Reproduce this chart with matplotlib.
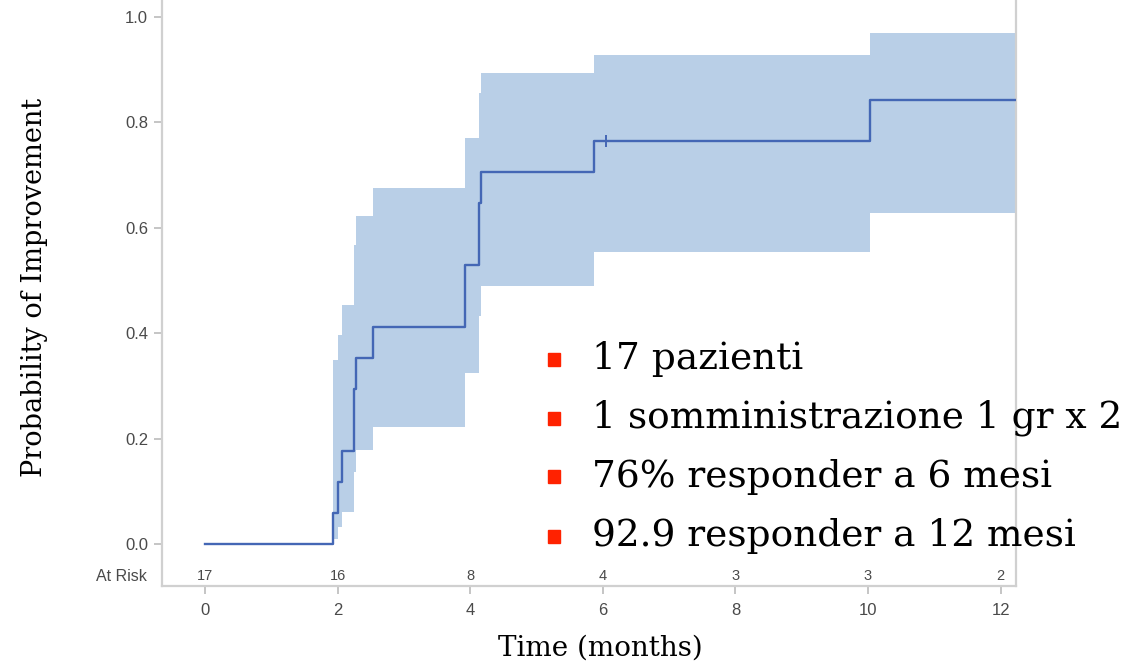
import numpy as np
import matplotlib; matplotlib.use("Agg"); import matplotlib.pyplot as plt

# Kaplan-Meier style curve
event_t = [1.93, 2.01, 2.06, 2.24, 2.28, 2.54, 3.92, 4.13, 4.16, 5.87, 10.03]
prob    = [0.059, 0.118, 0.176, 0.294, 0.353, 0.412, 0.529, 0.647, 0.706, 0.765, 0.843]
ci_low  = [0.010, 0.032, 0.061, 0.136, 0.178, 0.222, 0.325, 0.432, 0.489, 0.554, 0.629]
ci_high = [0.350, 0.396, 0.453, 0.568, 0.623, 0.676, 0.771, 0.856, 0.894, 0.928, 0.970]
censor_t, censor_p = [6.05], [0.765]
t_end = 12.232

risk_t = [0, 2, 4, 6, 8, 10, 12]
at_risk = [17, 16, 8, 4, 3, 3, 2]

bullets = ["17 pazienti", "1 somministrazione 1 gr x 2",
           "76% responder a 6 mesi", "92.9 responder a 12 mesi"]

fig = plt.figure(figsize=(11.37, 6.61), dpi=100)
ax = fig.add_axes([0.14248, 0.1135, 0.7511, 0.9007])
ax.set_xlim(-0.6486, t_end); ax.set_ylim(-0.0795, 1.05)

bt = np.array(event_t + [t_end])
ax.fill_between(bt, ci_low + ci_low[-1:], ci_high + ci_high[-1:], step="post",
                color="#b9cfe7", lw=0, zorder=1)
lt = np.array([0] + event_t + [t_end]); lp = np.array([0] + prob + prob[-1:])
ax.step(lt, lp, where="post", color="#4467b5", lw=1.7, zorder=3)
ax.plot(censor_t, censor_p, ls="none", marker="|", ms=9, mew=1.4, color="#4467b5", zorder=4)

# at-risk row inside the axes
for x, n in zip(risk_t, at_risk):
    ax.text(x, -0.061, str(n), ha="center", va="center", fontsize=10.5,
            family="Liberation Sans", color="#4a4a4a")
ax.text(-0.875, -0.061, "At Risk", ha="right", va="center", fontsize=11.5,
        family="Liberation Sans", color="#4a4a4a", clip_on=False)

ax.set_xticks(risk_t); ax.set_yticks([0, 0.2, 0.4, 0.6, 0.8, 1.0])
ax.set_yticklabels(["0.0", "0.2", "0.4", "0.6", "0.8", "1.0"])
ax.tick_params(colors="#c0c0c0", labelcolor="#4a4a4a", labelsize=12, length=6, width=1.3)
ax.tick_params(axis="x", pad=6)
ax.tick_params(axis="y", pad=4)
for s in ("left", "right", "bottom"):
    ax.spines[s].set_color("#d0d0d0"); ax.spines[s].set_linewidth(1.6)
ax.spines["top"].set_visible(False)
for lab in ax.get_xticklabels() + ax.get_yticklabels():
    lab.set_fontfamily("Liberation Sans")

fig.text(600 / 1137, 1 - 648 / 661, "Time (months)", ha="center", va="center",
         family="DejaVu Serif", fontsize=20)
fig.text(35 / 1137, 1 - 287 / 661, "Probability of Improvement", ha="center", va="center",
         rotation=90, family="DejaVu Serif", fontsize=19.5)

for i, txt in enumerate(bullets):
    y = 1 - (359 + i * 59) / 661
    fig.patches.append(plt.Rectangle((548 / 1137, y - 6.5 / 661), 12 / 1137, 13 / 661,
                                     transform=fig.transFigure, color="#ff2200"))
    fig.text(592 / 1137, y, txt, ha="left", va="center", family="DejaVu Serif",
             fontsize=27, color="black")

fig.savefig("out.png", dpi=100)
